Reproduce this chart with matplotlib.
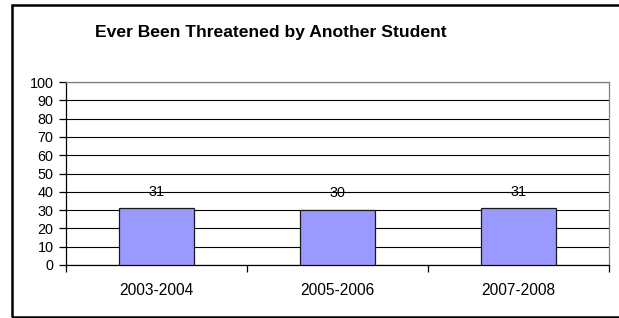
import matplotlib.pyplot as plt
import matplotlib.patches as patches

plt.rcParams['font.family'] = ['Liberation Sans', 'DejaVu Sans']

years = ['2003-2004', '2005-2006', '2007-2008']
percent = [31, 30, 31]

fig = plt.figure(figsize=(6.19, 3.18), dpi=100)

# outer chart border
fig.patches.append(patches.Rectangle((12/619, 1/318), 1.2, 312/318, transform=fig.transFigure,
                                     fill=False, edgecolor='black', linewidth=1.8, clip_on=False))

ax = fig.add_axes([66/619, 53/318, 543/619, 183/318])
x = range(len(years))
bars = ax.bar(x, percent, width=0.41, color='#9999FF', edgecolor='#1a1a1a', linewidth=0.9, zorder=3)
for xi, v in zip(x, percent):
    ax.annotate(str(v), (xi, v), xytext=(0, 7), textcoords='offset points',
                ha='center', va='bottom', fontsize=10.4)

ax.set_xlim(-0.5, 2.5)
ax.set_ylim(0, 100)
ax.set_yticks(range(0, 101, 10))
ax.set_xticks(list(x))
ax.set_xticklabels(years, fontsize=11.2)
ax.set_xticks([-0.5, 0.5, 1.5, 2.5], minor=True)
ax.tick_params(axis='x', which='major', length=0, pad=13)
ax.tick_params(axis='x', which='minor', length=5, direction='out', width=0.9)
ax.tick_params(axis='y', length=5, direction='out', width=0.9, labelsize=10.4, pad=4)
ax.yaxis.grid(True, color='black', linewidth=0.8, zorder=0)
ax.set_axisbelow(True)
for s in ['top', 'right']:
    ax.spines[s].set_color('#808080')
    ax.spines[s].set_linewidth(0.9)
for s in ['left', 'bottom']:
    ax.spines[s].set_color('black')
    ax.spines[s].set_linewidth(0.9)

fig.text(271/619, 1 - 32/318, 'Ever Been Threatened by Another Student', ha='center', va='center',
         fontsize=12.6, fontweight='bold')

fig.savefig('out.png', dpi=100)
